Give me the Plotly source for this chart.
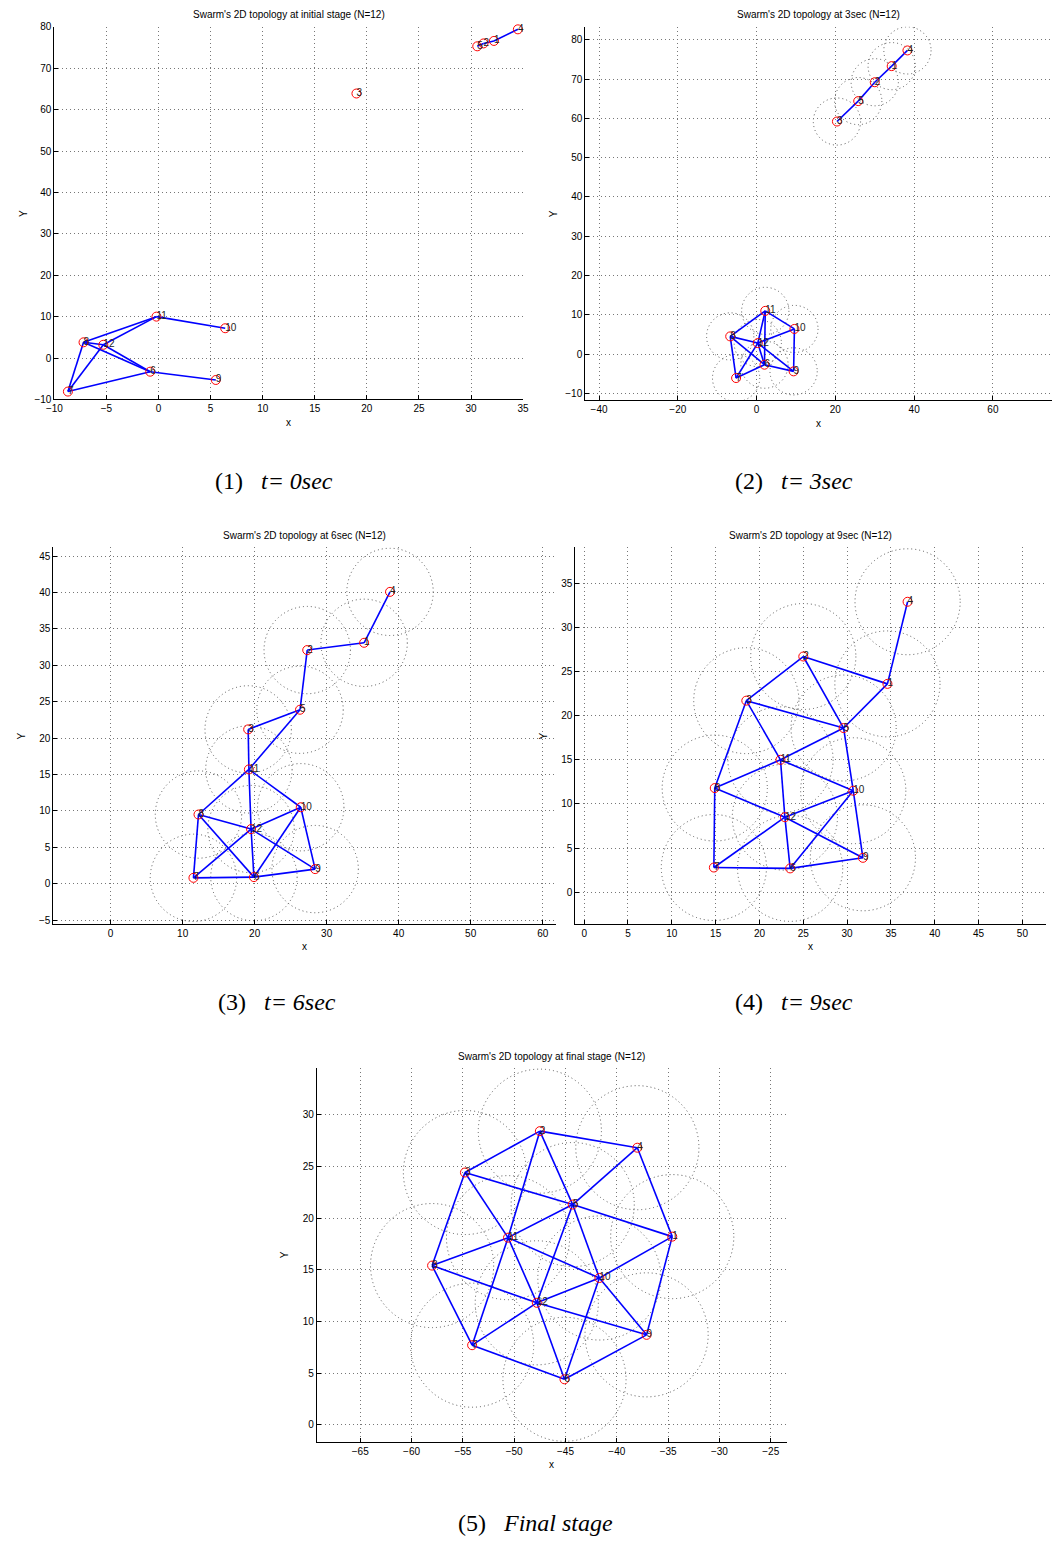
import plotly.graph_objects as go

W, H = 1058, 1549

# ---------------- data ----------------
node_ids = [1, 2, 3, 4, 5, 6, 7, 8, 9, 10, 11, 12]

p1_x = [32.2, 31.2, 19.0, 34.5, 30.6, -0.8, -8.7, -7.2, 5.5, 6.4, -0.2, -5.3]
p1_y = [76.6, 76.0, 63.9, 79.4, 75.3, -3.3, -8.1, 3.8, -5.3, 7.2, 10.0, 3.2]
p1_edges = [(5, 2), (2, 1), (1, 4), (11, 10), (11, 8), (11, 12), (8, 12), (8, 7),
            (12, 7), (8, 6), (12, 6), (7, 6), (6, 9)]

p2_x = [34.3, 30.0, 20.4, 38.3, 25.8, 2.0, -5.2, -6.7, 9.4, 9.6, 2.2, 0.3]
p2_y = [73.3, 69.2, 59.2, 77.3, 64.4, -2.7, -6.1, 4.5, -4.4, 6.4, 11.0, 2.8]
p2_edges = [(3, 5), (5, 2), (2, 1), (1, 4), (8, 11), (11, 10), (11, 12), (11, 6),
            (8, 12), (8, 7), (8, 6), (12, 10), (12, 9), (12, 7), (12, 6), (7, 6),
            (6, 9), (10, 9)]

p3_x = [35.2, 27.3, 19.1, 38.8, 26.3, 19.9, 11.5, 12.2, 28.4, 26.4, 19.2, 19.5]
p3_y = [33.1, 32.1, 21.2, 40.1, 23.9, 0.9, 0.8, 9.5, 2.0, 10.5, 15.7, 7.5]
p3_edges = [(4, 1), (1, 2), (2, 5), (5, 3), (5, 11), (3, 11), (11, 8), (11, 12),
            (11, 10), (8, 12), (8, 7), (8, 6), (12, 7), (12, 6), (12, 10), (12, 9),
            (7, 6), (6, 10), (6, 9), (10, 9)]

p4_x = [34.6, 25.0, 18.5, 36.9, 29.6, 23.5, 14.8, 14.9, 31.8, 30.7, 22.4, 22.9]
p4_y = [23.6, 26.7, 21.7, 32.9, 18.6, 2.7, 2.8, 11.8, 3.9, 11.5, 15.0, 8.5]
p4_edges = [(4, 1), (1, 2), (1, 5), (2, 3), (2, 5), (3, 5), (3, 11), (3, 8),
            (5, 11), (5, 10), (11, 8), (11, 12), (11, 10), (8, 12), (8, 7),
            (12, 7), (12, 6), (12, 10), (12, 9), (10, 6), (10, 9), (7, 6), (6, 9)]

p5_x = [-34.6, -47.5, -54.8, -38.0, -44.3, -45.1, -54.1, -58.0, -37.1, -41.7, -50.6, -47.8]
p5_y = [18.2, 28.4, 24.4, 26.8, 21.3, 4.4, 7.7, 15.4, 8.7, 14.2, 18.1, 11.8]
p5_edges = [(2, 4), (2, 3), (2, 5), (2, 11), (4, 5), (4, 1), (3, 5), (3, 11), (3, 8),
            (5, 1), (5, 11), (5, 10), (5, 12), (1, 10), (1, 9), (11, 8), (11, 10),
            (11, 12), (11, 7), (8, 12), (8, 7), (12, 7), (12, 6), (12, 10), (12, 9),
            (10, 6), (10, 9), (7, 6), (6, 9)]

titles = ["Swarm's 2D topology at initial stage (N=12)",
          "Swarm's 2D topology at 3sec (N=12)",
          "Swarm's 2D topology at 6sec (N=12)",
          "Swarm's 2D topology at 9sec (N=12)",
          "Swarm's 2D topology at final stage (N=12)"]
captions = ["(1)&nbsp;&nbsp;&nbsp;<i>t= 0sec</i>", "(2)&nbsp;&nbsp;&nbsp;<i>t= 3sec</i>",
            "(3)&nbsp;&nbsp;&nbsp;<i>t= 6sec</i>", "(4)&nbsp;&nbsp;&nbsp;<i>t= 9sec</i>",
            "(5)&nbsp;&nbsp;&nbsp;<i>Final stage</i>"]
comm_radius = [None, 6, 6, 6, 6]

# ---------------- layout (pixels) ----------------
panels = [
    dict(px=(47, 522, 22, 397), xr=[-10, 35], yr=[-10, 80], dx=5, dy=10,
         xs=p1_x, ys=p1_y, ed=p1_edges, cap=(270, 479)),
    dict(px=(585, 1058, 22, 398), xr=[-43.5, 75.0], yr=[-11.8, 83.3], dx=20, dy=10,
         xs=p2_x, ys=p2_y, ed=p2_edges, cap=(797, 479)),
    dict(px=(46, 555, 546, 925), xr=[-7.95, 61.8], yr=[-5.55, 46.2], dx=10, dy=5,
         xs=p3_x, ys=p3_y, ed=p3_edges, cap=(273, 1003)),
    dict(px=(575, 1052, 546, 925), xr=[-1.0, 52.7], yr=[-3.6, 39.05], dx=5, dy=5,
         xs=p4_x, ys=p4_y, ed=p4_edges, cap=(797, 1003)),
    dict(px=(313, 789, 1070, 1446), xr=[-69.23, -23.46], yr=[-1.63, 34.5], dx=5, dy=5,
         xs=p5_x, ys=p5_y, ed=p5_edges, cap=(535, 1528)),
]

fig = go.Figure()
shapes = []
annotations = []
sans = "Liberation Sans, Arial, sans-serif"
tick_font = dict(family=sans, size=10, color="black")

for i, p in enumerate(panels):
    k = i + 1
    xa = "x" if k == 1 else f"x{k}"
    ya = "y" if k == 1 else f"y{k}"
    xs, ys = p["xs"], p["ys"]

    r = comm_radius[i]
    if r:
        for cx, cy in zip(xs, ys):
            shapes.append(dict(type="circle", xref=xa, yref=ya,
                               x0=cx - r, x1=cx + r, y0=cy - r, y1=cy + r,
                               line=dict(color="#555555", width=1, dash="1px,3px"),
                               layer="below"))

    ex, ey = [], []
    for a, b in p["ed"]:
        ex += [xs[a - 1], xs[b - 1], None]
        ey += [ys[a - 1], ys[b - 1], None]
    fig.add_trace(go.Scatter(x=ex, y=ey, mode="lines", xaxis=xa, yaxis=ya,
                             line=dict(color="#0000ff", width=1.6),
                             hoverinfo="skip", showlegend=False))
    fig.add_trace(go.Scatter(x=xs, y=ys, mode="markers", xaxis=xa, yaxis=ya,
                             marker=dict(symbol="circle-open", size=9,
                                         color="#ff0000", line=dict(width=1)),
                             cliponaxis=False, showlegend=False))
    fig.add_trace(go.Scatter(x=xs, y=ys, mode="text", xaxis=xa, yaxis=ya,
                             text=[str(n) for n in node_ids],
                             textposition="middle right",
                             textfont=dict(family=sans, size=10, color="#222222"),
                             cliponaxis=False, showlegend=False))

    L, R, T, B = p["px"]
    axis_common = dict(showline=True, linecolor="black", linewidth=1,
                       ticks="inside", ticklen=4, tickcolor="black",
                       showgrid=True, gridcolor="#777777", griddash="1px,3px", gridwidth=1,
                       zeroline=False, tickfont=tick_font, mirror=False)
    fig.layout[("xaxis" if k == 1 else f"xaxis{k}")] = dict(
        domain=[L / W, R / W], range=p["xr"], dtick=p["dx"], tick0=0,
        anchor=ya, **axis_common)
    fig.layout[("yaxis" if k == 1 else f"yaxis{k}")] = dict(
        domain=[1 - B / H, 1 - T / H], range=p["yr"], dtick=p["dy"], tick0=0,
        anchor=xa, **axis_common)

    cx = (L + R) / 2
    annotations.append(dict(text=titles[i], x=cx / W, y=1 - (T - 12) / H,
                            xref="paper", yref="paper", showarrow=False,
                            xanchor="center", yanchor="middle",
                            font=dict(family=sans, size=10, color="black")))
    annotations.append(dict(text="x", x=cx / W, y=1 - (B + 23) / H,
                            xref="paper", yref="paper", showarrow=False,
                            xanchor="center", yanchor="middle",
                            font=dict(family=sans, size=10, color="black")))
    annotations.append(dict(text="Y", x=(L - 32) / W, y=1 - ((T + B) / 2) / H,
                            xref="paper", yref="paper", showarrow=False,
                            textangle=-90, xanchor="center", yanchor="middle",
                            font=dict(family=sans, size=10, color="black")))
    capx, capy = p["cap"]
    annotations.append(dict(text=captions[i], x=capx / W, y=1 - capy / H,
                            xref="paper", yref="paper", showarrow=False,
                            xanchor="center", yanchor="middle",
                            font=dict(family="Liberation Serif, DejaVu Serif, serif",
                                      size=24, color="black")))

# titles sit slightly higher
for a in annotations:
    pass

fig.update_layout(width=W, height=H, margin=dict(l=0, r=0, t=0, b=0),
                  paper_bgcolor="white", plot_bgcolor="white",
                  shapes=shapes, annotations=annotations, showlegend=False)

fig.write_html("out.html")
